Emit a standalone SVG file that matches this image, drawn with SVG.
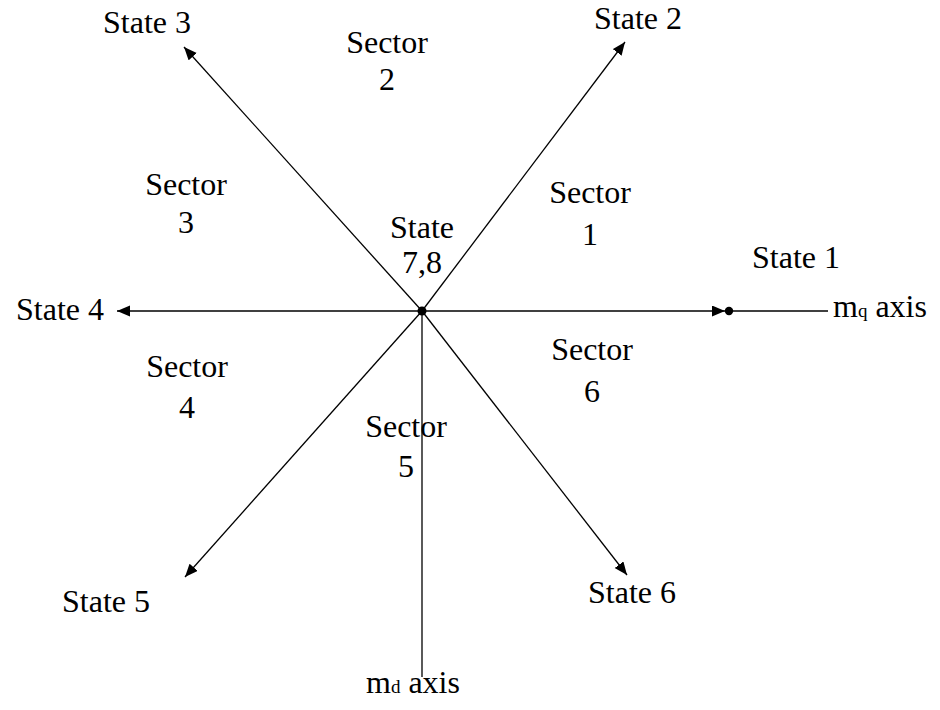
<svg xmlns="http://www.w3.org/2000/svg" width="940" height="710" viewBox="0 0 940 710">
<defs>
<style>
text{font-family:'Liberation Serif','Times New Roman','DejaVu Serif',serif;font-size:32px;fill:#000}
.t{text-anchor:middle}
.sub{font-size:19px}
.ax{stroke:#000;stroke-width:1.3;fill:none}
</style>
<marker id="ah" markerUnits="userSpaceOnUse" markerWidth="14" markerHeight="12" refX="13" refY="5.5" orient="auto">
<path d="M0,0 L13,5.5 L0,11 z" fill="#000"/>
</marker>
</defs>
<rect width="940" height="710" fill="#fff"/>
<g id="connectors">
<line class="ax" x1="422" y1="311" x2="184" y2="47" marker-end="url(#ah)"/>
<line class="ax" x1="422" y1="311" x2="625" y2="42" marker-end="url(#ah)"/>
<line class="ax" x1="422" y1="311" x2="117" y2="311" marker-end="url(#ah)"/>
<line class="ax" x1="422" y1="311" x2="185" y2="577" marker-end="url(#ah)"/>
<line class="ax" x1="422" y1="311" x2="627" y2="575" marker-end="url(#ah)"/>
<line class="ax" x1="422" y1="311" x2="725" y2="311" marker-end="url(#ah)"/>
<line class="ax" x1="725" y1="311" x2="828" y2="311"/>
<line class="ax" x1="422" y1="311" x2="422" y2="677"/>
</g>
<g id="origin"><circle cx="422" cy="311" r="4.5" fill="#000"/></g>
<g id="state1dot"><circle cx="729" cy="311" r="4.2" fill="#000"/></g>
<g font-family="Liberation Serif, Times New Roman, serif">
<g id="state3"><text class="t" x="147" y="33">State 3</text></g>
<g id="state2"><text class="t" x="638" y="29">State 2</text></g>
<g id="state4"><text class="t" x="60" y="320">State 4</text></g>
<g id="state1"><text class="t" x="796" y="268">State 1</text></g>
<g id="state5"><text class="t" x="106" y="612">State 5</text></g>
<g id="state6"><text class="t" x="632" y="603">State 6</text></g>
<g id="state78"><text class="t" x="422" y="238">State</text><text class="t" x="422" y="273">7,8</text></g>
<g id="sector1"><text class="t" x="590" y="203">Sector</text><text class="t" x="590" y="245">1</text></g>
<g id="sector2"><text class="t" x="387" y="53">Sector</text><text class="t" x="387" y="90">2</text></g>
<g id="sector3"><text class="t" x="186" y="195">Sector</text><text class="t" x="186" y="233">3</text></g>
<g id="sector4"><text class="t" x="187" y="377">Sector</text><text class="t" x="187" y="418">4</text></g>
<g id="sector5"><text class="t" x="406" y="437">Sector</text><text class="t" x="406" y="477">5</text></g>
<g id="sector6"><text class="t" x="592" y="360">Sector</text><text class="t" x="592" y="402">6</text></g>
<g id="mq"><text x="833" y="317">m<tspan class="sub">q</tspan> axis</text></g>
<g id="md"><text x="366" y="693">m<tspan class="sub">d</tspan> axis</text></g>
</g>
</svg>
